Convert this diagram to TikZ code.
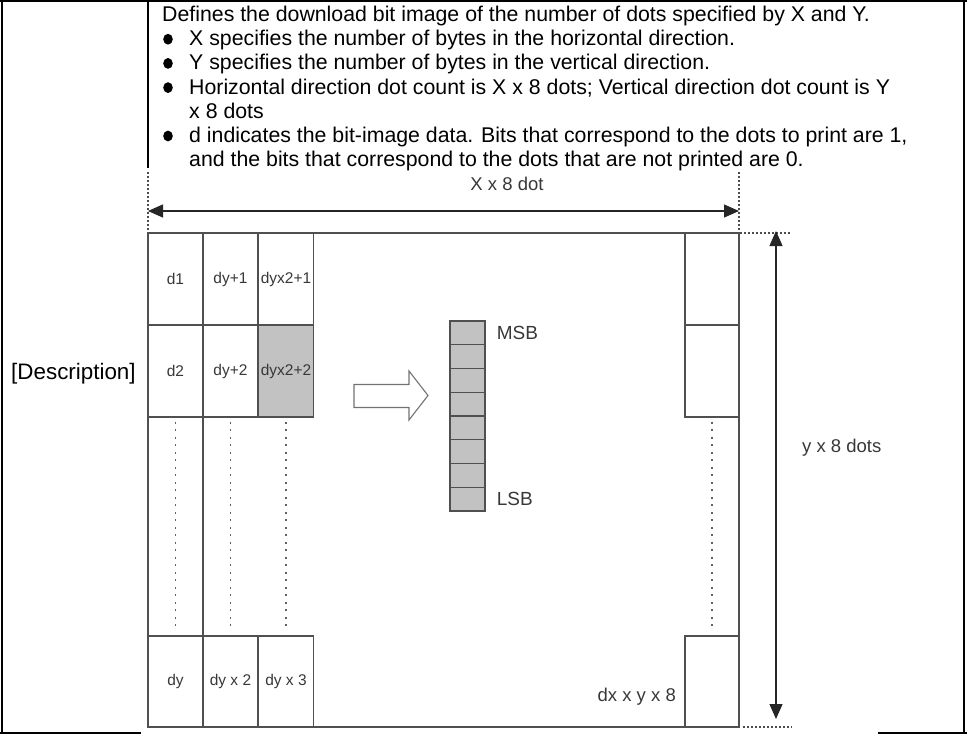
\documentclass[tikz,border=0pt]{standalone}
\usepackage{fontspec}
\setmainfont{Liberation Sans}
\usetikzlibrary{arrows.meta, positioning}

\definecolor{linegray}{HTML}{505050}
\definecolor{cellgray}{HTML}{C2C2C2}
\definecolor{textgray}{HTML}{383838}

\begin{document}
\begin{tikzpicture}[
  x=1pt, y=-1pt,
  body/.style={anchor=base west, inner sep=0pt, font=\fontsize{21.3}{24}\selectfont},
  cell/.style={rectangle, draw=linegray, line width=1.3pt, minimum width=55pt, minimum height=92pt, inner sep=0pt, text=textgray, font=\fontsize{15.5}{18}\selectfont},
  shaded/.style={cell, fill=cellgray},
  bitcell/.style={rectangle, draw=linegray, fill=cellgray, line width=1.2pt, minimum width=35pt, minimum height=23.75pt, inner sep=0pt},
  label/.style={text=textgray, inner sep=0pt, font=\fontsize{18.5}{20}\selectfont},
  dim/.style={{Triangle[length=15pt,width=13pt]}-{Triangle[length=15pt,width=13pt]}, line width=1.2pt, black!85},
  guide/.style={black!70, line width=1.2pt, dash pattern=on 1.5pt off 2.5pt},
  ellipsis/.style={linegray!90, line width=1.6pt, dash pattern=on 2pt off 5.5pt, shorten >=4pt, shorten <=4pt}
]
\useasboundingbox (0,0) rectangle (967,734);

% Table frame
\draw[line width=2.4pt] (0,1.2) -- (967,1.2);
\draw[line width=2.6pt] (2,0) -- (2,734);
\draw[line width=2.4pt] (964,0) -- (964,734);
\draw[line width=2.4pt] (0,733) -- (141,733);
\draw[line width=2.4pt] (878,733) -- (967,733);
\draw[line width=1.8pt] (148,0) -- (148,168);

% Text
\node[body] (intro) at (162,21.5) {Defines the download bit image of the number of dots specified by X and Y.};
\node[body] (itemx) at (189,45.7) {X specifies the number of bytes in the horizontal direction.};
\node[body] (itemy) at (189,69.9) {Y specifies the number of bytes in the vertical direction.};
\node[body] (itemh) at (189,94.1) {Horizontal direction dot count is X x 8 dots; Vertical direction dot count is Y};
\node[body] (itemhb) at (189,118.3) {x 8 dots};
\node[body] (itemd) at (189,142.5) {d indicates the bit-image data. Bits that correspond to the dots to print are 1,};
\node[body] (itemdb) at (189,166.7) {and the bits that correspond to the dots that are not printed are 0.};
\foreach \b in {itemx, itemy, itemh, itemd}
  \fill ([xshift=-21pt,yshift=6.5pt]\b.base west) ellipse (4.8pt and 5.4pt);

\node[body, font=\fontsize{22.4}{24}\selectfont] (desc) at (11,379.5) {[Description]};

% Dimension guides
\coordinate (xl) at (148,211);
\coordinate (xr) at (739,211);
\coordinate (yt) at (776,231);
\coordinate (yb) at (776,719);
\draw[guide] (148,172) -- (148,233);
\draw[guide] (739,172) -- (739,233);
\draw[guide] (740,233) -- (792,233);
\draw[guide] (743,727) -- (792,727);
\draw[dim] (xl) -- (xr);
\draw[dim] (yt) -- (yb);
\node[label] (xdim) at (507,184) {X x 8 dot};
\node[label, anchor=west] (ydim) at (802,448) {y x 8 dots};

% Image area
\draw[linegray, line width=1.3pt] (148,233) rectangle (739,727);
\draw[linegray, line width=1.3pt] (203,233) -- (203,727);

% Cells
\node[cell] (d1) at (175.5,279) {d1};
\node[cell] (dy1) at (230.5,279) {dy+1};
\node[cell] (dyb1) at (286,279) {dyx2+1};
\node[cell] (d2) at (175.5,371) {d2};
\node[cell] (dy2) at (230.5,371) {dy+2};
\node[shaded] (dyb2) at (286,371) {dyx2+2};
\node[cell, minimum height=91pt] (dy) at (175.5,681.5) {dy};
\node[cell, minimum height=91pt] (dyx) at (230.5,681.5) {dy x 2};
\node[cell, minimum height=91pt] (dyxx) at (286,681.5) {dy x 3};
\node[cell, minimum width=54pt] (r1) at (712,279) {};
\node[cell, minimum width=54pt] (r2) at (712,371) {};
\node[cell, minimum width=54pt, minimum height=91pt] (rn) at (712,681.5) {};
\node[label, anchor=east] (last) at (676,697) {dx x y x 8};

\draw[ellipsis] (d2) -- (dy);
\draw[ellipsis] (dy2) -- (dyx);
\draw[ellipsis] (dyb2) -- (dyxx);
\draw[ellipsis] (r2) -- (rn);

% Bit stack
\foreach \i in {0,...,7}
  \node[bitcell] (bit\i) at (467.5,332.875+23.75*\i) {};
\node[label, font=\fontsize{19}{21}\selectfont, right=11pt of bit0] (msb) {MSB};
\node[label, font=\fontsize{19}{21}\selectfont, right=11pt of bit7] (lsb) {LSB};

% Block arrow
\draw[linegray!80, line width=1.1pt, fill=white] (354,384.5) -- (409,384.5) -- (409,371) -- (428,395.5) -- (409,420) -- (409,407.5) -- (354,407.5) -- cycle;

\end{tikzpicture}
\end{document}
